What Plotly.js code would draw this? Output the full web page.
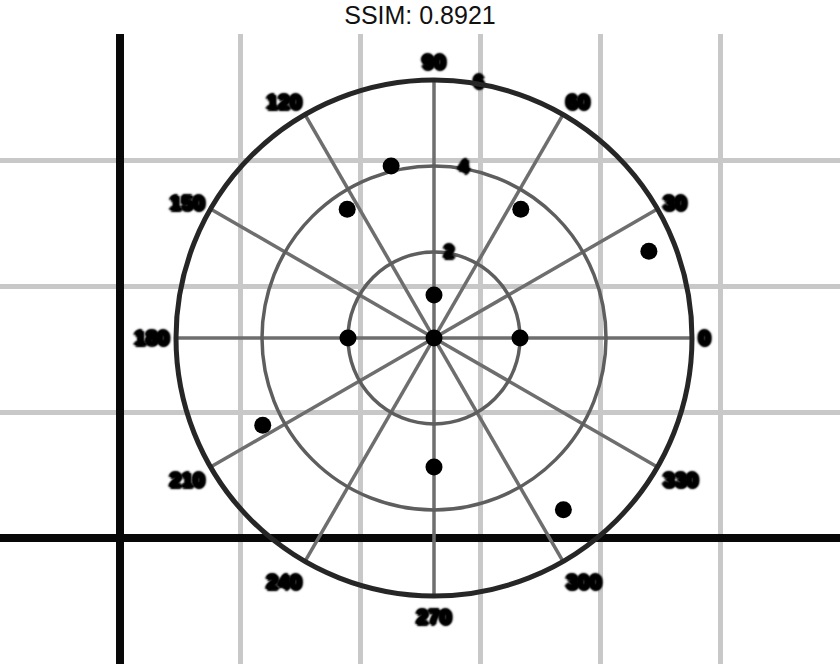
<!DOCTYPE html>
<html>
<head>
<meta charset="utf-8">
<script src="https://cdn.plot.ly/plotly-3.0.1.min.js"></script>
<style>html,body{margin:0;padding:0;background:#fff;}#chart{width:840px;height:664px;}</style>
</head>
<body>
<div id="chart"></div>
<script>
// Data
const pointR = [0, 1, 2, 2, 3, 4.12, 3.61, 3.61, 5.39, 4.47, 5.0];
const pointTheta = [0, 90, 0, 180, 270, 104, 124, 56, 22, 207, 307];
const angularTicks = [0, 30, 60, 90, 120, 150, 180, 210, 240, 270, 300, 330];
const angularLabels = ['0','30','60','90','120','150','180','210','240','270','300','330'];
const radialTicks = [2, 4, 6];
const radialLabels = ['2', '4', '6'];
const radialLabelAngle = 80;
const radialRange = [0, 6];
const xRange = [-1, 6];
const yRange = [-1, 4];
const titleText = 'SSIM: 0.8921';

const blobShadow = '2px 0 2px #000, -2px 0 2px #000, 0 2px 2px #000, 0 -2px 2px #000, 1px 1px 2px #000, -1px -1px 2px #000';
const angFont = {
  family: 'Liberation Sans, Arial, sans-serif',
  size: 21,
  color: '#000',
  weight: 'bold',
  shadow: blobShadow
};
const radFont = {
  family: 'Liberation Sans, Arial, sans-serif',
  size: 18,
  color: '#000',
  weight: 'bold',
  shadow: blobShadow
};

const data = [
  {type: 'scatter', x: [], y: [], xaxis: 'x', yaxis: 'y', showlegend: false, hoverinfo: 'skip'},
  {
    type: 'scatterpolar',
    r: pointR,
    theta: pointTheta,
    mode: 'markers',
    marker: {color: '#000', size: 17},
    showlegend: false
  },
  {
    type: 'scatterpolar',
    r: radialTicks,
    theta: radialTicks.map(() => radialLabelAngle),
    text: radialLabels,
    mode: 'text',
    textposition: 'middle center',
    textfont: radFont,
    showlegend: false,
    cliponaxis: false
  }
];

const layout = {
  width: 840,
  height: 664,
  margin: {l: 0, r: 0, t: 34, b: 0},
  paper_bgcolor: '#fff',
  plot_bgcolor: '#fff',
  title: {
    text: titleText,
    x: 0.5, xanchor: 'center',
    y: 0.977, yanchor: 'middle',
    font: {family: 'Liberation Sans, Arial, sans-serif', size: 25, color: '#111'}
  },
  xaxis: {
    range: xRange, dtick: 1, showgrid: true, gridcolor: '#c8c8c8', gridwidth: 5,
    zeroline: true, zerolinecolor: '#080808', zerolinewidth: 8,
    showticklabels: false, ticks: '', showline: false, fixedrange: true
  },
  yaxis: {
    range: yRange, dtick: 1, showgrid: true, gridcolor: '#c8c8c8', gridwidth: 5,
    zeroline: true, zerolinecolor: '#080808', zerolinewidth: 8,
    showticklabels: false, ticks: '', showline: false, fixedrange: true
  },
  polar: {
    domain: {x: [176/840, 692/840], y: [68/630, 584/630]},
    bgcolor: 'rgba(0,0,0,0)',
    radialaxis: {
      range: radialRange,
      tickvals: radialTicks,
      angle: radialLabelAngle,
      showticklabels: false,
      showline: false,
      ticks: '',
      gridcolor: '#5e5e5e',
      gridwidth: 3.5
    },
    angularaxis: {
      rotation: 0,
      direction: 'counterclockwise',
      tickvals: angularTicks,
      ticktext: angularLabels,
      ticks: '',
      showline: true,
      linecolor: '#262626',
      linewidth: 5,
      gridcolor: '#6e6e6e',
      gridwidth: 3.5,
      tickfont: angFont
    }
  }
};

Plotly.newPlot('chart', data, layout, {displayModeBar: false, staticPlot: true});
</script>
</body>
</html>
